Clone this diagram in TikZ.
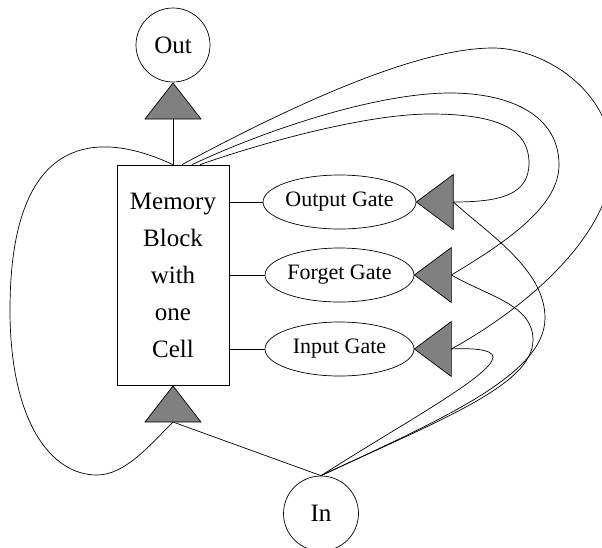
\documentclass[tikz,border=0pt]{standalone}
\usepackage{fontspec}
\setmainfont{Liberation Serif}
\usetikzlibrary{shapes.geometric,calc}
\begin{document}
\begin{tikzpicture}[x=1pt,y=-1pt,line width=0.7pt,
  every node/.style={inner sep=0pt},
  unit/.style={circle,draw,minimum size=74pt,font=\fontsize{25}{30}\selectfont},
  gate/.style={ellipse,draw,minimum width=149pt,minimum height=54pt,font=\fontsize{22}{26}\selectfont},
  block/.style={rectangle,draw,minimum width=112pt,minimum height=220pt,align=center,font=\fontsize{25}{37}\selectfont},
  tri/.style={draw,fill=gray,line join=miter}]
\useasboundingbox (0,0) rectangle (602,547);
\clip (0,0) rectangle (602,547);

\node[unit] (out) at (173,45) {Out};
\node[unit,minimum size=75pt] (in) at (321,513.5) {In};
\node[block] (mem) at (173,275) {Memory\\Block\\with\\one\\Cell};
\node[gate] (og) at (339.5,202) {Output Gate};
\node[gate] (fg) at (339.5,275) {Forget Gate};
\node[gate] (ig) at (339.5,349) {Input Gate};

\coordinate (toA) at (173,83);
\coordinate (toB) at (173,119);
\coordinate (tiA) at (173,386);
\coordinate (tiB) at (173,422);
\coordinate (goA) at (og.east);
\coordinate (gfA) at (fg.east);
\coordinate (giA) at (ig.east);
\coordinate (goB) at ($(og.east)+(37,0)$);
\coordinate (gfB) at ($(fg.east)+(37,0)$);
\coordinate (giB) at ($(ig.east)+(37,0)$);

% triangles
\draw[tri] (toA) -- ++(-28,36) -- ++(56,0) -- cycle;
\draw[tri] (tiA) -- ++(-28,36) -- ++(56,0) -- cycle;
\draw[tri] (goA) -- ++(37,-27.5) -- ++(0,55) -- cycle;
\draw[tri] (gfA) -- ++(37,-27.5) -- ++(0,55) -- cycle;
\draw[tri] (giA) -- ++(37,-27.5) -- ++(0,55) -- cycle;

% straight connectors
\draw (toB) -- (mem.north);
\draw (og.west -| mem.east) -- (og.west);
\draw (fg.west -| mem.east) -- (fg.west);
\draw (ig.west -| mem.east) -- (ig.west);
\draw (in.north) -- (tiB);

% left recurrent loop
\draw (mem.north) .. controls (110,135) and (10,120) .. (10,310)
  .. controls (10,420) and (50,475) .. (97,475)
  .. controls (125,475) and (150,445) .. (tiB);

% block to gates
\draw ([xshift=9pt]mem.north) .. controls (302,100) and (420,48) .. (493,48)
  .. controls (540,48) and (605,85) .. (612,150)
  .. controls (620,222) and (540,300) .. (giB);
\draw ([xshift=19pt]mem.north) .. controls (272,127) and (380,93) .. (450,93)
  .. controls (510,93) and (559,115) .. (559,165)
  .. controls (559,205) and (510,240) .. (gfB);
\draw ([xshift=27pt]mem.north) .. controls (270,140) and (370,114) .. (430,114)
  .. controls (500,114) and (529,130) .. (529,163)
  .. controls (529,195) and (500,202) .. (goB);

% input to gates
\draw (in.north) .. controls (440,420) and (545,375) .. (545,318)
  .. controls (545,270) and (490,235) .. (goB);
\draw (in.north) .. controls (440,420) and (533,385) .. (533,340)
  .. controls (533,305) and (490,297) .. (gfB);
\draw (in.north) .. controls (400,425) and (493,375) .. (493,357)
  .. controls (493,349) and (470,348) .. (giB);
\end{tikzpicture}
\end{document}
